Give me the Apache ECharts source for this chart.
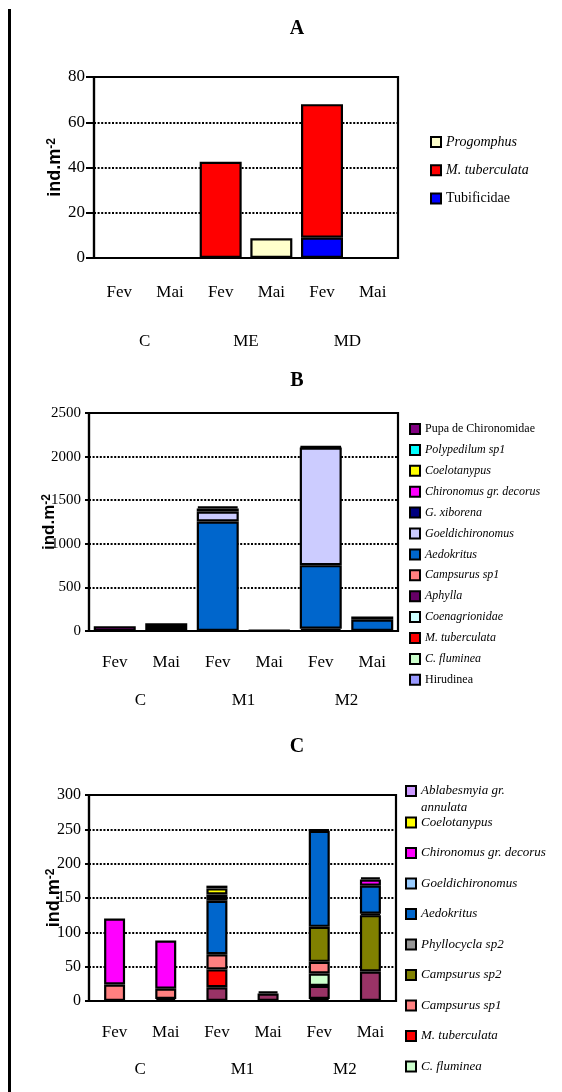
<!DOCTYPE html>
<html>
<head>
<meta charset="utf-8">
<script src="https://cdn.jsdelivr.net/npm/echarts@6/dist/echarts.min.js"></script>
<style>
  html, body { margin: 0; padding: 0; background: #fff; width: 562px; height: 1092px; overflow: hidden; }
  body { position: relative; }
  .panel { position: absolute; left: 0; width: 562px; }
  #rule { position: absolute; left: 8px; top: 9px; width: 2.5px; height: 1083px; background: #000; }
</style>
</head>
<body>
<div id="rule"></div>
<div id="pA" class="panel" style="top:0;height:350px"></div>
<div id="pB" class="panel" style="top:350px;height:370px"></div>
<div id="pC" class="panel" style="top:720px;height:372px"></div>
<script>
// ---- shared category labels ----
const months = ['Fev', 'Mai', 'Fev', 'Mai', 'Fev', 'Mai'];
const sitesA = ['C', 'ME', 'MD'];
const sitesBC = ['C', 'M1', 'M2'];

// ---- Panel A: densities (ind.m-2), stack order bottom -> top ----
const taxaA = ['Tubificidae', 'M. tuberculata', 'Progomphus'];
const colorsA = ['#0000FF', '#FF0000', '#FFFFCC'];
const tubificidaeA = [0, 0, 0, 0, 9, 0];
const mTuberculataA = [0, 0, 42.5, 0, 59, 0];
const progomphusA = [0, 0, 0, 8.7, 0, 0];
const valuesA = [tubificidaeA, mTuberculataA, progomphusA];
const italicA = ['M. tuberculata', 'Progomphus'];

// ---- Panel B ----
const taxaB = ['Hirudinea', 'C. fluminea', 'M. tuberculata', 'Coenagrionidae', 'Aphylla',
  'Campsurus sp1', 'Aedokritus', 'Goeldichironomus', 'G. xiborena', 'Chironomus gr. decorus',
  'Coelotanypus', 'Polypedilum sp1', 'Pupa de Chironomidae'];
const colorsB = ['#9999FF', '#CCFFCC', '#FF0000', '#CCFFFF', '#660066',
  '#FF8080', '#0066CC', '#CCCCFF', '#000080', '#FF00FF',
  '#FFFF00', '#00FFFF', '#800080'];
const hirudineaB = [0, 0, 0, 0, 0, 0];
const cFlumineaB = [0, 0, 0, 0, 0, 0];
const mTuberculataB = [0, 0, 0, 0, 0, 0];
const coenagrionidaeB = [0, 0, 0, 0, 0, 0];
const aphyllaB = [0, 0, 0, 0, 25, 0];
const campsurus1B = [0, 0, 0, 0, 0, 0];
const aedokritusB = [0, 45, 1255, 8, 730, 130];
const goeldichironomusB = [0, 0, 115, 0, 1350, 0];
const gXiborenaB = [0, 0, 0, 0, 0, 0];
const chironomusB = [55, 45, 35, 0, 0, 0];
const coelotanypusB = [0, 0, 0, 0, 0, 0];
const polypedilumB = [0, 0, 0, 0, 0, 0];
const pupaB = [0, 0, 25, 0, 15, 35];
const valuesB = [hirudineaB, cFlumineaB, mTuberculataB, coenagrionidaeB, aphyllaB,
  campsurus1B, aedokritusB, goeldichironomusB, gXiborenaB, chironomusB,
  coelotanypusB, polypedilumB, pupaB];
const uprightB = ['Hirudinea', 'Pupa de Chironomidae'];

// ---- Panel C ----
const taxaC = ['Outros táxons 2', 'Outros táxons 1', 'C. fluminea', 'M. tuberculata', 'Campsurus sp1',
  'Campsurus sp2', 'Phyllocycla sp2', 'Aedokritus', 'Goeldichironomus',
  'Chironomus gr. decorus', 'Coelotanypus', 'Ablabesmyia gr. annulata'];
const colorsC = ['#111111', '#993366', '#CCFFCC', '#FF0000', '#FF8080',
  '#808000', '#969696', '#0066CC', '#99CCFF',
  '#FF00FF', '#FFFF00', '#CC99FF'];
const outros2C = [0, 3, 0, 0, 3, 0];
const outros1C = [0, 0, 20, 11, 19, 43];
const cFlumineaC = [0, 0, 0, 0, 18, 0];
const mTuberculataC = [0, 0, 26, 0, 0, 0];
const campsurus1C = [24, 15, 22, 0, 17, 0];
const campsurus2C = [0, 0, 0, 0, 51, 82];
const phyllocyclaC = [0, 0, 0, 0, 0, 2];
const aedokritusC = [0, 0, 78, 0, 140, 41];
const goeldichironomusC = [0, 0, 4, 0, 0, 0];
const chironomusC = [96, 70, 5, 0, 0, 9];
const coelotanypusC = [0, 0, 9, 0, 0, 0];
const ablabesmyiaC = [0, 0, 4, 3, 2, 3];
const valuesC = [outros2C, outros1C, cFlumineaC, mTuberculataC, campsurus1C,
  campsurus2C, phyllocyclaC, aedokritusC, goeldichironomusC,
  chironomusC, coelotanypusC, ablabesmyiaC];

const SERIF = 'Liberation Serif, Times New Roman, serif';
const SANS = 'Liberation Sans, Arial, sans-serif';

function makeSeries(taxa, colors, values, barWidth) {
  return taxa.map((name, i) => ({
    type: 'bar',
    name: name,
    stack: 'total',
    barWidth: barWidth,
    data: values[i].map(v => (v === 0 ? null : v)),
    itemStyle: { color: colors[i], borderColor: '#000', borderWidth: 2.2 },
    emphasis: { disabled: true }
  }));
}

function legendRich(size, lh) {
  return {
    i: { fontFamily: SERIF, fontSize: size, fontStyle: 'italic', color: '#000', lineHeight: lh },
    n: { fontFamily: SERIF, fontSize: size, fontStyle: 'normal', color: '#000', lineHeight: lh }
  };
}

function panelOption(p) {
  return {
    animation: false,
    title: {
      text: p.title, left: 292, top: p.titleTop, textAlign: 'center',
      textStyle: { fontFamily: SERIF, fontWeight: 'bold', fontSize: 20, color: '#000' }
    },
    grid: {
      left: p.grid[0], top: p.grid[1], width: p.grid[2], height: p.grid[3],
      show: true, borderColor: '#000', borderWidth: 2.2, containLabel: false
    },
    legend: p.legend,
    xAxis: [
      {
        type: 'category', data: months, position: 'bottom',
        axisLine: { show: true, lineStyle: { color: '#000', width: 2.2 } },
        axisTick: { show: false },
        axisLabel: { margin: p.monthMargin, fontFamily: SERIF, fontSize: 17, lineHeight: 17, color: '#000' },
        splitLine: { show: false }
      },
      {
        type: 'category', data: p.sites, position: 'bottom',
        axisLine: { show: false }, axisTick: { show: false },
        axisLabel: { margin: p.siteMargin, fontFamily: SERIF, fontSize: 17, lineHeight: 17, color: '#000' },
        splitLine: { show: false }
      }
    ],
    yAxis: {
      type: 'value', min: 0, max: p.max, interval: p.interval,
      name: 'ind.m{s|-2}', nameLocation: 'middle', nameRotate: 90, nameGap: p.nameGap,
      nameMoveOverlap: false,
      nameTextStyle: {
        fontFamily: SANS, fontWeight: 'bold', fontSize: p.nameSize, color: '#000', lineHeight: p.nameSize,
        rich: { s: { fontFamily: SANS, fontWeight: 'bold', fontSize: 12, color: '#000', verticalAlign: 'top', lineHeight: 12 } }
      },
      axisLine: { show: true, lineStyle: { color: '#000', width: 2.2 } },
      axisTick: { show: true, length: p.tickLen, lineStyle: { color: '#000', width: 2 } },
      axisLabel: {
        margin: p.labelMargin, fontFamily: SERIF, fontSize: p.tickSize, color: '#000',
        formatter: v => String(v)
      },
      splitLine: { show: true, lineStyle: { color: '#000', width: 2, type: [2, 1.6] } }
    },
    series: makeSeries(p.taxa, p.colors, p.values, p.barWidth)
  };
}

// ---- Panel A ----
const chartA = echarts.init(document.getElementById('pA'), null, { renderer: 'canvas' });
chartA.setOption(panelOption({
  title: 'A', titleTop: 14,
  grid: [94, 77, 304, 184],
  sites: sitesA, monthMargin: 26, siteMargin: 75,
  max: 80, interval: 20, nameGap: 30, nameSize: 18, tickLen: 8, labelMargin: 9, tickSize: 17,
  taxa: taxaA, colors: colorsA, values: valuesA, barWidth: 42,
  legend: {
    orient: 'vertical', left: 430, top: 135, itemWidth: 10, itemHeight: 10, itemGap: 14.3, padding: 0,
    icon: 'rect', data: taxaA.slice().reverse(), height: 200,
    formatter: name => (italicA.includes(name) ? '{i|' + name + '}' : '{n|' + name + '}'),
    textStyle: { fontFamily: SERIF, fontSize: 14, color: '#000', lineHeight: 10, rich: legendRich(14, 10) }
  }
}));

// ---- Panel B ----
const chartB = echarts.init(document.getElementById('pB'), null, { renderer: 'canvas' });
chartB.setOption(panelOption({
  title: 'B', titleTop: 16,
  grid: [89, 63, 309, 218],
  sites: sitesBC, monthMargin: 23, siteMargin: 61,
  max: 2500, interval: 500, nameGap: 31, nameSize: 17, tickLen: 4, labelMargin: 8, tickSize: 15,
  taxa: taxaB, colors: colorsB, values: valuesB, barWidth: 42,
  legend: {
    orient: 'vertical', left: 409, top: 73, itemWidth: 10, itemHeight: 10, itemGap: 8.9, padding: 0,
    icon: 'rect', data: taxaB.slice().reverse(), height: 400,
    formatter: name => (uprightB.includes(name) ? '{n|' + name + '}' : '{i|' + name + '}'),
    textStyle: { fontFamily: SERIF, fontSize: 12, color: '#000', lineHeight: 10, rich: legendRich(12, 10) }
  }
}));

// ---- Panel C ----
const legendC = taxaC.slice(2).reverse();
const chartC = echarts.init(document.getElementById('pC'), null, { renderer: 'canvas' });
chartC.setOption(panelOption({
  title: 'C', titleTop: 12,
  grid: [89, 75, 307, 206],
  sites: sitesBC, monthMargin: 23, siteMargin: 60,
  max: 300, interval: 50, nameGap: 26, nameSize: 18, tickLen: 4, labelMargin: 8, tickSize: 16,
  taxa: taxaC, colors: colorsC, values: valuesC, barWidth: 21,
  legend: [
    {
      orient: 'vertical', left: 405, top: 45.5, itemWidth: 10, itemHeight: 10, padding: 0,
      icon: 'rect', data: [legendC[0]], height: 100,
      formatter: () => '{i|Ablabesmyia gr.}\n{i|annulata}',
      textStyle: { fontFamily: SERIF, fontSize: 13, color: '#000', lineHeight: 17, padding: [17, 0, 0, 0], rich: legendRich(13, 17) }
    },
    {
      orient: 'vertical', left: 405, top: 96, itemWidth: 10, itemHeight: 10, itemGap: 17.5, padding: 0,
      icon: 'rect', data: legendC.slice(1), height: 400,
      formatter: name => '{i|' + name + '}',
      textStyle: { fontFamily: SERIF, fontSize: 13, color: '#000', lineHeight: 10, rich: legendRich(13, 10) }
    }
  ]
}));
</script>
</body>
</html>
